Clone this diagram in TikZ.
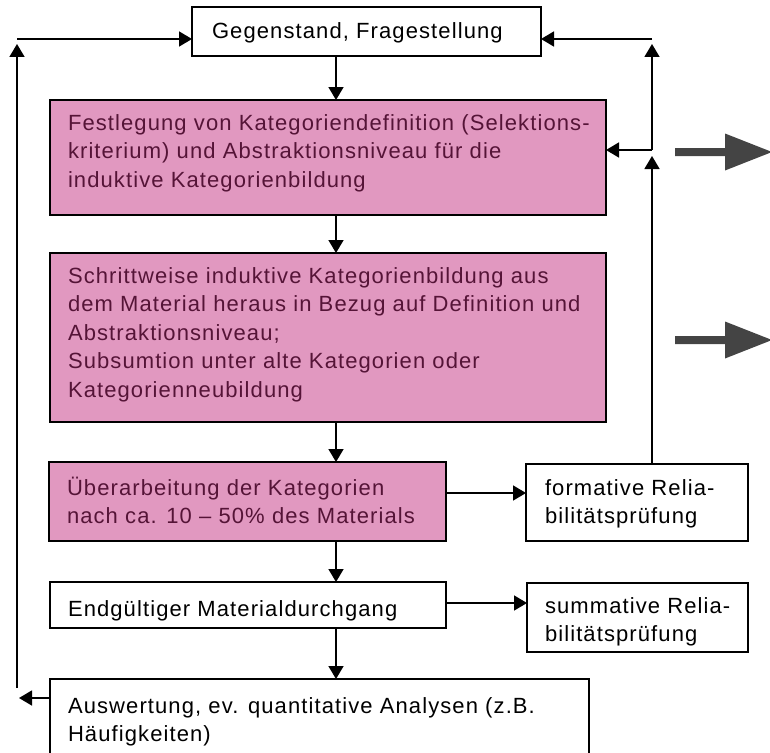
\documentclass[tikz,border=0pt]{standalone}
\usepackage{fontspec}
\setmainfont{Liberation Sans}[LetterSpace=5]
\usetikzlibrary{arrows.meta}
\definecolor{pinkfill}{RGB}{225,152,192}
\definecolor{pinktext}{RGB}{85,20,55}
\definecolor{bigarrowcol}{RGB}{68,68,68}
\newcommand{\boxlines}[1]{\parbox[t]{700pt}{\raggedright #1}}
\tikzset{
  box/.style={draw=black, line width=1.6pt, inner sep=0pt, outer sep=0pt, anchor=north west},
  pinkbox/.style={box, fill=pinkfill},
  whitebox/.style={box, fill=white},
  txt/.style={anchor=base west, inner sep=0pt, outer sep=0pt, font=\fontsize{22}{28.5}\selectfont},
  ptxt/.style={txt, text=pinktext},
  arr/.style={line width=1.6pt, -{Triangle[length=13pt,width=15pt]}},
  bigarr/.style={fill=bigarrowcol}
}
\begin{document}
\begin{tikzpicture}[x=1pt,y=-1pt]
\useasboundingbox (0,0) rectangle (770,752);
\clip (0,0) rectangle (770,752);
% boxes
\node[whitebox, minimum width=349pt, minimum height=49pt] (top) at (192,7) {};
\node[txt] (ttop) at (212,39) {Gegenstand, Fragestellung};

\node[pinkbox, minimum width=556pt, minimum height=115pt] (b1) at (50,100) {};
\node[ptxt] (tb1) at (68,130) {\boxlines{Festlegung von Kategoriendefinition (Selektions-\\kriterium) und Abstraktionsniveau für die\\induktive Kategorienbildung}};

\node[pinkbox, minimum width=556pt, minimum height=169pt] (b2) at (50,253) {};
\node[ptxt] (tb2) at (68,283) {\boxlines{Schrittweise induktive Kategorienbildung aus\\dem Material heraus in Bezug auf Definition und\\Abstraktionsniveau;\\Subsumtion unter alte Kategorien oder\\Kategorienneubildung}};

\node[pinkbox, minimum width=397pt, minimum height=79pt] (b3) at (49,462) {};
\node[ptxt] (tb3) at (67,495) {\boxlines{Überarbeitung der Kategorien\\nach ca. 10 – 50\% des Materials}};

\node[whitebox, minimum width=222pt, minimum height=77pt] (form) at (526,464) {};
\node[txt] (tform) at (545,495) {\boxlines{formative Relia-\\bilitätsprüfung}};

\node[whitebox, minimum width=396pt, minimum height=46pt] (endg) at (50,582) {};
\node[txt] (tendg) at (68,616) {Endgültiger Materialdurchgang};

\node[whitebox, minimum width=221pt, minimum height=69pt] (summ) at (527,583) {};
\node[txt] (tsumm) at (545,613) {\boxlines{summative Relia-\\bilitätsprüfung}};

\node[whitebox, minimum width=539pt, minimum height=80pt] (aus) at (50,679) {};
\node[txt] (taus) at (68,713) {\boxlines{Auswertung, ev. quantitative Analysen (z.B.\\Häufigkeiten)}};

% helper coordinates
\coordinate (cx) at (336,0);
\coordinate (y493) at (0,493);
\coordinate (y603) at (0,603);
\coordinate (Lb) at (17,688);
\coordinate (Lt) at (17,44);
\coordinate (Lh) at (17,39);
\coordinate (La) at (19,698);
\coordinate (Rt) at (652,39);
\coordinate (Ru) at (652,44);
\coordinate (Rm) at (652,150);
\coordinate (Rf) at (652,156);

% main flow
\draw[arr] (top.south -| cx) -- (b1.north -| cx);
\draw[arr] (b1.south -| cx) -- (b2.north -| cx);
\draw[arr] (b2.south -| cx) -- (b3.north -| cx);
\draw[arr] (b3.south -| cx) -- (endg.north -| cx);
\draw[arr] (endg.south -| cx) -- (aus.north -| cx);

% side arrows
\draw[arr] (b3.east |- y493) -- (form.west |- y493);
\draw[arr] (endg.east |- y603) -- (summ.west |- y603);

% left feedback
\draw[arr] (La -| aus.west) -- (La);
\draw[arr] (Lb) -- (Lt);
\draw[arr] (Lh) -- (Lh -| top.west);

% right feedback
\draw[arr] (form.north -| Rf) -- (Rf);
\draw[arr] (Rm) -- (Ru);
\draw[arr] (Rm) -- (Rm -| b1.east);
\draw[arr] (Rt) -- (Rt -| top.east);

% big gray arrows
\fill[bigarr] (675,148) -- (725,148) -- (725,133.5) -- (772,152) -- (725,170.5) -- (725,156) -- (675,156) -- cycle;
\fill[bigarr] (675,336) -- (725,336) -- (725,321.5) -- (772,340) -- (725,358.5) -- (725,344) -- (675,344) -- cycle;
\end{tikzpicture}
\end{document}
